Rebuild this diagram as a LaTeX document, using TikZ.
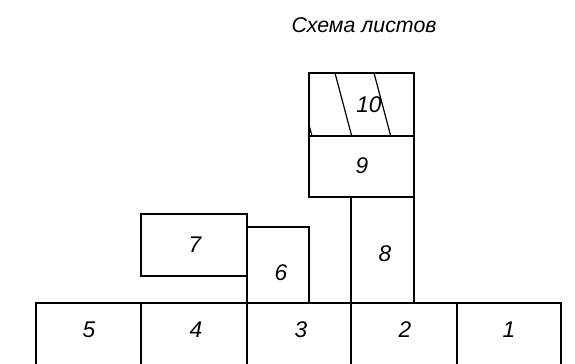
\documentclass[tikz,border=0pt]{standalone}
\usepackage{fontspec}
\setmainfont{Liberation Sans}
\begin{document}
\begin{tikzpicture}[x=0.75pt,y=-0.75pt,line width=1.2pt,
  lbl/.style={font=\itshape\fontsize{17}{20}\selectfont}]
\useasboundingbox (0,0) rectangle (575,364);
\node[lbl,font=\itshape\fontsize{16}{19}\selectfont] (title) at (364,25) {Схема листов};
% bottom row
\draw (36,364) -- (36,303) -- (561,303) -- (561,364);
\foreach \x in {141,247,351,457} \draw (\x,303) -- (\x,364);
\foreach \x/\n in {89/5,196/4,301/3,405/2,509/1} \node[lbl] (n\n) at (\x,330) {\n};
% upper sheets
\draw (141,214) rectangle (247,276);
\draw (247,227) rectangle (309,303);
\draw (351,197) rectangle (414,303);
\draw (309,136) rectangle (414,197);
\draw (309,73) rectangle (414,136);
\node[lbl] (n7) at (195,245) {7};
\node[lbl] (n6) at (281,273) {6};
\node[lbl] (n8) at (385,254) {8};
\node[lbl] (n9) at (362,166) {9};
\node[lbl] (n10) at (369,105) {10};
% hatch in 10
\draw[line width=0.9pt] (335,73) -- (351.7,136);
\draw[line width=0.9pt] (374,73) -- (390.7,136);
\draw[line width=0.9pt] (309,125) -- (312,136);
\end{tikzpicture}
\end{document}
